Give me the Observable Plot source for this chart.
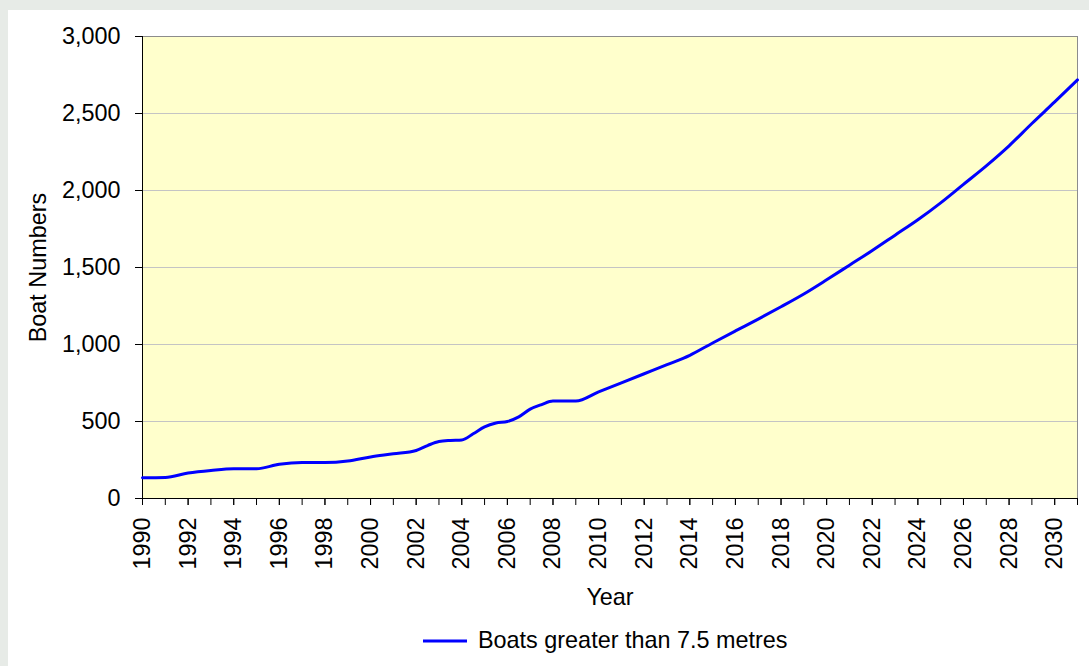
<!DOCTYPE html>
<html>
<head>
<meta charset="utf-8">
<script src="https://cdn.jsdelivr.net/npm/d3@7"></script>
<script src="https://cdn.jsdelivr.net/npm/@observablehq/plot@0.6"></script>
<style>
  html, body { margin: 0; padding: 0; }
  body { width: 1089px; height: 666px; background: #e7ebe7; position: relative; overflow: hidden; font-family: "Liberation Sans", Arial, sans-serif; }
  #panel { position: absolute; left: 8px; top: 10px; right: 0; bottom: 0; background: #ffffff; }
  #chart { position: absolute; left: 0; top: 0; }
  #legend { position: absolute; left: 423px; top: 627px; display: flex; align-items: center; font-size: 23.4px; color: #000; white-space: nowrap; }
  #legend svg { margin-right: 11px; }
</style>
</head>
<body>
<div id="panel"></div>
<div id="chart"></div>
<div id="legend"></div>
<script>
const years = [1990, 1991, 1992, 1993, 1994, 1995, 1996, 1997, 1998, 1999, 2000, 2001,
  2002, 2002.5, 2003, 2003.5, 2004, 2004.5, 2005, 2005.5, 2006, 2006.5, 2007, 2007.5, 2008, 2008.5, 2009,
  2010, 2011, 2012, 2013, 2014, 2015, 2016, 2017, 2018, 2019, 2020,
  2021, 2022, 2023, 2024, 2025, 2026, 2027, 2028, 2029, 2030, 2031];
const boats = [135, 137, 165, 182, 193, 193, 222, 233, 233, 243, 270, 290,
  312, 344, 370, 377, 380, 420, 465, 490, 500, 530, 580, 610, 633, 633, 633,
  692, 751, 810, 869, 930, 1010, 1088, 1165, 1245, 1328, 1420,
  1515, 1610, 1710, 1810, 1920, 2040, 2160, 2290, 2435, 2575, 2718];
const seriesName = "Boats greater than 7.5 metres";
const yTicks = [0, 500, 1000, 1500, 2000, 2500, 3000];
const xMinorTicks = [1990, 1991, 1992, 1993, 1994, 1995, 1996, 1997, 1998, 1999, 2000, 2001, 2002, 2003, 2004, 2005,
  2006, 2007, 2008, 2009, 2010, 2011, 2012, 2013, 2014, 2015, 2016, 2017, 2018, 2019, 2020, 2021,
  2022, 2023, 2024, 2025, 2026, 2027, 2028, 2029, 2030, 2031];
const xLabelTicks = [1990, 1992, 1994, 1996, 1998, 2000, 2002, 2004, 2006, 2008, 2010, 2012, 2014,
  2016, 2018, 2020, 2022, 2024, 2026, 2028, 2030];

const data = years.map((y, i) => ({year: y, boats: boats[i]}));
const fmtComma = d3.format(",");

const chart = Plot.plot({
  width: 1089,
  height: 610,
  marginLeft: 142,
  marginRight: 12,
  marginTop: 36,
  marginBottom: 112,
  style: {background: "transparent", fontFamily: "'Liberation Sans', Arial, sans-serif", fontSize: "23.4px", color: "#000", overflow: "visible"},
  x: {domain: [1990, 2031]},
  y: {domain: [0, 3000]},
  marks: [
    Plot.frame({fill: "#ffffcc"}),
    Plot.gridY(yTicks.filter(v => v > 0 && v < 3000), {stroke: "#c4c4c4", strokeOpacity: 1}),
    Plot.frame({stroke: "#8c8c8c"}),
    Plot.ruleX([1990], {stroke: "#000"}),
    Plot.ruleY([0], {stroke: "#000"}),
    Plot.axisY({ticks: yTicks, tickFormat: d => fmtComma(d), tickSize: 7, tickPadding: 15, fontSize: 23.4,
      label: "Boat Numbers", labelAnchor: "center", labelArrow: "none", labelOffset: 113}),
    Plot.axisX({ticks: xMinorTicks, tickFormat: () => "", tickSize: 7, label: null}),
    Plot.axisX({ticks: xLabelTicks, tickFormat: d => String(d), tickSize: 7, tickPadding: 12, tickRotate: -90, fontSize: 23.4,
      label: "Year", labelAnchor: "center", labelArrow: "none", labelOffset: 106}),
    Plot.line(data, {x: "year", y: "boats", stroke: "#0000ff", strokeWidth: 3, curve: "monotone-x"})
  ]
});
document.getElementById("chart").appendChild(chart);

const legend = document.getElementById("legend");
legend.innerHTML = `<svg width="44" height="4"><line x1="0" x2="44" y1="2" y2="2" stroke="#0000ff" stroke-width="3"/></svg><span></span>`;
legend.querySelector("span").textContent = seriesName;
</script>
</body>
</html>
